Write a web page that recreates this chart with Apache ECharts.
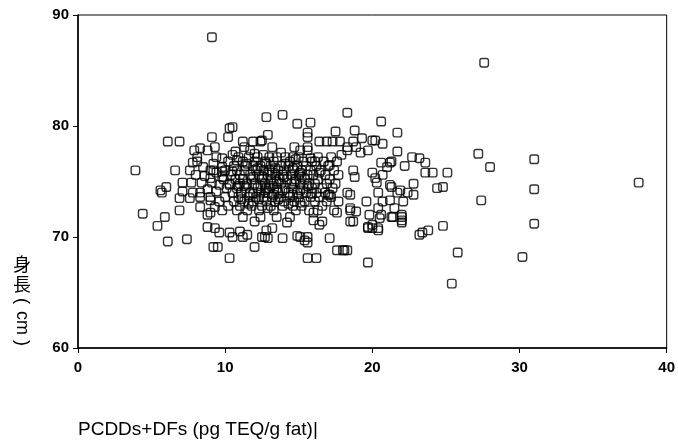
<!DOCTYPE html>
<html><head><meta charset="utf-8">
<script src="https://cdn.jsdelivr.net/npm/echarts@6/dist/echarts.min.js"></script>
<style>html,body{margin:0;padding:0;background:#fff}#c{width:678px;height:443px}</style>
</head><body><div id="c"></div>
<script>
// axis ranges / ticks
const xMin = 0, xMax = 40, xStep = 10;
const yMin = 60, yMax = 90, yStep = 10;
const xTitle = 'PCDDs+DFs (pg TEQ/g fat)|';

// outliers and sparse right-hand points [PCDDs+DFs, height]
const outlierPoints = [
  [9.1,88.0],[27.6,85.7],[27.2,77.5],[28.0,76.3],[31.0,77.0],[31.0,74.3],[31.0,71.2],
  [38.1,74.9],[27.4,73.3],[24.8,71.0],[23.4,70.4],[23.8,70.6],[25.8,68.6],[25.4,65.8],
  [30.2,68.2],[19.7,67.7],[3.9,76.0]
];

// right part of the cloud (x about 18-25)
const rightPoints = [
  [24.4,74.4],[24.8,74.5],[22.7,77.2],[23.2,77.1],[23.6,76.7],[22.2,76.4],[23.6,75.8],
  [24.1,75.8],[25.1,75.8],[22.8,74.8],[22.4,74.0],[22.1,73.2],[22.0,72.0],[22.0,71.5],
  [21.7,79.4],[20.6,80.4],[18.8,79.6],[19.3,78.9],[18.7,78.6],[18.9,78.1],[20.2,78.7],
  [20.7,78.4],[19.7,77.8],[19.2,77.6],[21.7,77.7],[21.2,76.7],[21.3,76.8],[21.0,76.3],
  [20.0,75.8],[20.2,75.3],[20.3,74.9],[18.7,76.0],[18.8,75.4],[20.7,75.6],[21.3,74.5],
  [20.4,74.0],[19.6,73.2],[20.7,73.2],[20.6,72.0],[21.3,71.8],[22.0,71.8],[22.0,71.3],
  [19.7,70.8],[20.4,70.6],[20.0,71.1],[18.7,71.4],[18.9,72.3],[18.5,72.6],[21.5,72.6],
  [18.0,68.8],[18.3,68.8],[17.1,69.9],[17.6,72.2],[18.5,72.4],[18.3,74.0],[17.1,73.8],
  [17.9,77.4],[18.3,77.8],[17.1,76.5],[16.1,76.8],[17.5,79.5],[16.4,78.6],[16.9,78.6],
  [17.3,78.6],[17.8,78.6],[15.6,79.4],[18.3,81.2],[15.8,80.3],[14.9,80.2],[13.9,81.0],
  [12.8,80.8],[18.3,78.1],[14.7,78.1],[15.6,78.1],[14.6,77.2],[15.8,77.1],[15.1,77.8],
  [15.6,77.8],[20.6,76.7],[20.0,78.7],[21.2,74.7],[21.9,74.2],[21.7,74.0],[21.2,73.3],
  [22.8,73.8],[20.4,72.6],[19.8,72.0],[20.5,71.7],[19.7,70.9],[20.0,70.8],[20.4,70.8],
  [21.4,71.8],[15.4,69.7],[16.4,71.1],[23.2,70.2],[15.1,74.2],[15.1,73.1],[17.0,73.8],
  [18.5,73.8],[15.6,68.1],[16.2,68.1],[17.6,68.8],[18.1,68.8]
];

// left part of the cloud (x about 4-11)
const leftPoints = [
  [4.4,72.1],[5.9,71.8],[5.4,71.0],[5.6,74.2],[6.0,74.5],[5.7,74.0],[6.1,69.6],[7.4,69.8],
  [6.1,78.6],[6.9,78.6],[6.6,76.0],[6.9,73.5],[7.6,73.5],[6.9,72.4],[7.1,74.9],[7.7,74.9],
  [8.4,74.9],[9.1,74.9],[9.6,74.7],[10.3,74.7],[7.1,74.1],[7.8,74.0],[7.6,76.0],[7.9,77.8],
  [8.1,77.2],[7.8,76.7],[8.1,76.8],[8.8,77.8],[9.4,77.2],[9.8,77.1],[9.0,76.0],[9.2,76.0],
  [9.1,79.0],[10.3,79.8],[10.5,79.9],[10.2,79.0],[10.7,77.7],[10.8,76.9],[9.8,76.3],
  [9.8,75.9],[9.8,75.4],[9.3,78.1],[8.3,78.0],[11.2,78.6],[11.9,78.6],[12.5,78.7],[11.7,77.8],
  [10.5,77.4],[12.6,77.4],[8.3,74.0],[9.0,73.6],[8.3,72.7],[9.0,73.3],[9.8,72.4],[9.0,72.2],
  [8.8,72.0],[8.8,70.9],[9.3,70.8],[9.2,69.1],[9.5,69.1],[10.3,68.1],[10.5,70.0],[10.3,70.4],
  [11.2,70.0],[12.0,69.1],[9.6,70.4],[8.6,75.5],[9.0,75.3],[9.4,75.8],[8.5,76.3],[9.2,76.6],
  [8.8,74.3],[9.4,74.1],[8.0,75.6],[8.3,73.6],[9.6,73.2],[9.3,72.7]
];

// lower and upper edges of the central cloud (x about 11-18)
const centerEdgePoints = [
  [11.3,78.1],[12.4,78.6],[13.2,78.1],[12.9,79.2],[15.6,79.0],[13.9,69.9],[14.9,70.1],
  [15.6,69.5],[15.6,70.0],[11.5,70.2],[12.5,70.0],[12.9,69.9],[11.0,70.5],[11.2,71.8],
  [12.0,71.4],[13.2,70.8],[14.2,71.3],[16.0,71.5],[16.6,71.4],[18.5,71.4],[12.7,70.0],
  [15.1,70.0],[12.4,71.8],[13.5,71.8],[14.4,71.8],[16.0,72.2],[12.8,70.6]
];

// dense core of the cloud
const corePoints = [
  [10.9,77.2],[11.6,77.2],[12.2,77.2],[13.0,77.2],[13.5,77.2],[14.1,77.2],[15.0,77.2],[16.3,77.2],[17.2,77.2],
  [10.2,76.8],[11.2,76.8],[12.0,76.8],[12.7,76.8],[13.3,76.8],[14.4,76.8],[15.3,76.8],[15.9,76.8],[16.7,76.8],[17.6,76.8],
  [10.6,76.4],[11.4,76.4],[11.9,76.4],[12.4,76.4],[13.1,76.4],[13.8,76.4],[14.3,76.4],[14.9,76.4],[15.5,76.4],[16.2,76.4],[17.0,76.4],
  [10.0,76.0],[10.8,76.0],[11.3,76.0],[12.1,76.0],[12.6,76.0],[13.0,76.0],[13.6,76.0],[14.0,76.0],[14.7,76.0],[15.2,76.0],[15.8,76.0],[16.5,76.0],[17.4,76.0],
  [10.4,75.6],[11.0,75.6],[11.7,75.6],[12.3,75.6],[12.9,75.6],[13.4,75.6],[13.9,75.6],[14.5,75.6],[15.0,75.6],[15.6,75.6],[16.0,75.6],[16.8,75.6],[17.7,75.6],
  [9.9,75.2],[10.7,75.2],[11.2,75.2],[11.8,75.2],[12.5,75.2],[13.1,75.2],[13.7,75.2],[14.2,75.2],[14.8,75.2],[15.4,75.2],[16.3,75.2],[17.1,75.2],
  [10.3,74.8],[11.0,74.8],[11.5,74.8],[12.0,74.8],[12.7,74.8],[13.3,74.8],[13.8,74.8],[14.5,74.8],[15.1,74.8],[15.7,74.8],[16.1,74.8],[16.9,74.8],[17.5,74.8],
  [10.1,74.4],[10.8,74.4],[11.4,74.4],[12.2,74.4],[12.8,74.4],[13.0,74.4],[13.5,74.4],[14.1,74.4],[14.6,74.4],[15.3,74.4],[15.9,74.4],[16.6,74.4],[17.3,74.4],
  [10.5,74.0],[11.1,74.0],[11.7,74.0],[12.4,74.0],[12.9,74.0],[13.6,74.0],[14.3,74.0],[14.9,74.0],[15.5,74.0],[16.2,74.0],[16.8,74.0],
  [10.0,73.6],[10.9,73.6],[11.6,73.6],[12.1,73.6],[12.6,73.6],[13.2,73.6],[13.7,73.6],[14.4,73.6],[15.0,73.6],[15.8,73.6],[16.4,73.6],[17.2,73.6],
  [10.6,73.2],[11.3,73.2],[11.9,73.2],[12.8,73.2],[13.4,73.2],[14.0,73.2],[14.7,73.2],[15.4,73.2],[16.1,73.2],[16.9,73.2],[17.7,73.2],
  [10.2,72.8],[11.0,72.8],[11.8,72.8],[12.5,72.8],[13.1,72.8],[13.9,72.8],[14.6,72.8],[15.2,72.8],[16.6,72.8],
  [10.8,72.4],[11.5,72.4],[12.3,72.4],[13.3,72.4],[14.8,72.4],[15.7,72.4],[16.3,72.4],[17.4,72.4]
];

// extra overlapping points in the darkest part of the core
const coreExtraPoints = [
  [11.5,76.6],[12.2,76.2],[12.8,76.6],[13.4,76.2],[14.1,76.6],[14.6,76.2],[15.1,75.8],[13.2,75.8],
  [11.9,75.4],[12.6,75.4],[13.5,75.0],[14.0,75.4],[14.7,75.0],[11.3,74.6],[12.4,74.6],[13.1,74.6],
  [13.9,74.2],[12.7,74.2],[11.9,73.9],[13.3,73.8],[14.6,73.8],[12.3,73.4],[13.6,73.4],[14.3,73.0],
  [11.6,73.0],[12.9,72.6],[10.5,75.9],[10.9,74.6],[15.6,74.6],[15.2,75.4],[16.4,75.8],[12.0,77.5],
  [13.8,77.6],[14.8,77.0],[11.1,73.4],[15.9,73.9]
];

const allPoints = [].concat(outlierPoints, rightPoints, leftPoints, centerEdgePoints, corePoints, coreExtraPoints);

const chart = echarts.init(document.getElementById('c'), null, {renderer: 'canvas'});
const labelFont = {color: '#000', fontSize: 15, fontWeight: 'bold', fontFamily: 'Liberation Sans, Arial, sans-serif'};
const cjk = 'Noto Sans CJK JP';
chart.setOption({
  animation: false,
  backgroundColor: '#fff',
  grid: {left: 78, right: 11, top: 15, bottom: 95, show: true, borderColor: '#000', borderWidth: 1, backgroundColor: 'transparent'},
  xAxis: {
    type: 'value', min: xMin, max: xMax, interval: xStep,
    axisLine: {show: true, onZero: false, lineStyle: {color: '#000', width: 1.5}},
    axisTick: {show: true, inside: false, length: 5, lineStyle: {color: '#000', width: 1}},
    axisLabel: Object.assign({margin: 12}, labelFont),
    splitLine: {show: false}
  },
  yAxis: {
    type: 'value', min: yMin, max: yMax, interval: yStep,
    axisLine: {show: true, onZero: false, lineStyle: {color: '#000', width: 1.5}},
    axisTick: {show: true, inside: false, length: 5, lineStyle: {color: '#000', width: 1}},
    axisLabel: Object.assign({margin: 9}, labelFont),
    splitLine: {show: false}
  },
  series: [{
    type: 'scatter',
    data: allPoints,
    symbol: 'roundRect',
    symbolSize: 8.5,
    itemStyle: {color: 'rgba(255,255,255,0)', borderColor: '#000', borderWidth: 1.4},
    emphasis: {disabled: true}
  }],
  graphic: [
    {type: 'text', x: 22, y: 264, style: {text: '身', fontSize: 18, fontFamily: cjk, fill: '#000', align: 'center', verticalAlign: 'middle'}},
    {type: 'text', x: 22, y: 284, style: {text: '長', fontSize: 18, fontFamily: cjk, fill: '#000', align: 'center', verticalAlign: 'middle'}},
    {type: 'text', x: 22, y: 301, rotation: -Math.PI / 2, style: {text: '(', fontSize: 18, fontFamily: 'Liberation Sans, sans-serif', fill: '#000', align: 'center', verticalAlign: 'middle'}},
    {type: 'text', x: 22, y: 323, rotation: -Math.PI / 2, style: {text: 'cm', fontSize: 18, fontFamily: 'Liberation Sans, sans-serif', fill: '#000', align: 'center', verticalAlign: 'middle'}},
    {type: 'text', x: 22, y: 343, rotation: -Math.PI / 2, style: {text: ')', fontSize: 18, fontFamily: 'Liberation Sans, sans-serif', fill: '#000', align: 'center', verticalAlign: 'middle'}},
    {type: 'text', x: 78, y: 430, style: {text: xTitle, fontSize: 19, fontFamily: 'Liberation Sans, Arial, sans-serif', fill: '#000', align: 'left', verticalAlign: 'middle'}}
  ]
});
</script>
</body></html>
